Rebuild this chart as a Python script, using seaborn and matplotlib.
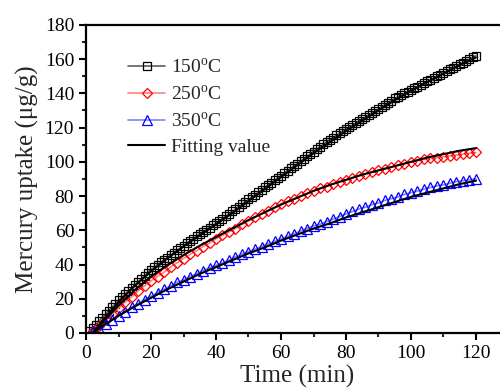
import matplotlib
matplotlib.use("Agg")
import matplotlib.pyplot as plt
import pandas as pd
import seaborn as sns
from matplotlib.ticker import MultipleLocator

# 150 C: one point per minute
t150 = list(range(1, 121))
uptake150 = [
    1.0, 2.8, 4.8, 6.9, 9.0, 11.0, 13.0, 15.0, 17.0, 19.0,
    20.8, 22.6, 24.4, 26.2, 28.0, 29.8, 31.6, 33.4, 35.2, 37.0,
    38.4, 39.8, 41.2, 42.6, 44.0, 45.4, 46.8, 48.2, 49.6, 51.0,
    52.4, 53.8, 55.2, 56.6, 58.0, 59.2, 60.4, 61.6, 62.8, 64.0,
    65.4, 66.8, 68.2, 69.6, 71.0, 72.4, 73.8, 75.2, 76.6, 78.0,
    79.4, 80.8, 82.2, 83.6, 85.0, 86.4, 87.8, 89.2, 90.6, 92.0,
    93.4, 94.8, 96.2, 97.6, 99.0, 100.4, 101.8, 103.2, 104.6, 106.0,
    107.4, 108.8, 110.2, 111.6, 113.0, 114.2, 115.4, 116.6, 117.8, 119.0,
    120.2, 121.4, 122.6, 123.8, 125.0, 126.2, 127.4, 128.6, 129.8, 131.0,
    132.2, 133.4, 134.6, 135.8, 137.0, 138.0, 139.0, 140.0, 141.0, 142.0,
    143.0, 144.0, 145.0, 146.0, 147.0, 148.0, 149.0, 150.0, 151.0, 152.0,
    153.0, 154.0, 155.0, 156.0, 157.0, 158.0, 159.0, 160.0, 161.0, 162.0,
]

# 250 C and 350 C: one point every two minutes
t_two = list(range(2, 121, 2))
uptake250 = [
    1.0, 4.0, 7.5, 11.0, 14.5, 18.0, 21.0, 24.5, 27.5, 30.5,
    33.0, 35.5, 38.5, 41.0, 43.5, 46.0, 48.0, 50.5, 52.5, 55.0,
    57.0, 59.0, 61.0, 63.5, 65.5, 67.5, 69.5, 71.5, 73.5, 75.5,
    77.0, 78.5, 80.0, 81.5, 83.0, 84.5, 85.5, 87.0, 88.5, 89.5,
    90.5, 92.0, 93.0, 94.0, 95.0, 96.0, 97.0, 98.0, 99.0, 100.0,
    100.5, 101.5, 102.0, 102.5, 103.0, 103.5, 104.0, 104.5, 105.0, 105.5,
]
uptake350 = [
    1.0, 2.5, 5.0, 7.5, 10.0, 12.5, 15.0, 17.0, 19.5, 21.5,
    23.5, 25.5, 27.5, 29.5, 31.0, 33.0, 34.5, 36.5, 38.0, 39.5,
    41.0, 42.5, 44.5, 46.0, 47.5, 49.0, 50.5, 52.0, 53.5, 55.0,
    56.5, 58.0, 59.5, 61.0, 62.5, 63.5, 65.0, 66.5, 68.0, 69.5,
    71.0, 72.5, 73.5, 75.0, 76.0, 77.5, 78.5, 79.5, 81.0, 82.0,
    83.0, 84.0, 85.0, 86.0, 86.5, 87.5, 88.5, 89.0, 89.5, 90.0,
]

# fitted curves
t_fit = [2, 5, 10, 15, 20, 25, 30, 35, 40, 45, 50, 55, 60,
         65, 70, 75, 80, 85, 90, 95, 100, 105, 110, 115, 120]
fit150 = [0, 7, 18, 27.5, 36, 43.5, 50.5, 57, 63.5, 70, 77, 84, 91,
          98, 105, 111.5, 118, 124, 130, 136, 141.5, 146.5, 151.5, 156.5, 161]
fit250 = [0, 6, 16, 25, 33, 39.5, 45.5, 51, 56, 61, 66, 70.5, 75,
          79, 83, 86.5, 89.5, 92.5, 95, 97.5, 100, 102.5, 104.5, 106.5, 108]
fit350 = [0, 4, 10, 15.5, 20.5, 25.5, 30, 34.5, 38.5, 42.5, 46.5, 50, 54,
          57.5, 61, 64, 67.5, 70.5, 73.5, 76.5, 79.5, 82, 84.5, 87, 89]

sns.set_theme(style="ticks")
plt.rcParams["font.family"] = ["Liberation Serif", "DejaVu Serif"]
plt.rcParams["mathtext.fontset"] = "custom"
plt.rcParams["mathtext.rm"] = "Liberation Serif"

fig = plt.figure(figsize=(5, 3.89), dpi=100)
ax = fig.add_axes([0.172, 0.144, 0.845, 0.792])

series = [
    ("150$^{\\rm o}$C", t150, uptake150, "black", "#606060", "s", 5.5),
    ("250$^{\\rm o}$C", t_two, uptake250, "red", "#ff8080", "D", 5.5),
    ("350$^{\\rm o}$C", t_two, uptake350, "blue", "#8080ff", "^", 6.5),
]
handles = []
for label, t, y, edge, line_c, mk, ms in series:
    df = pd.DataFrame({"time": t, "uptake": y})
    sns.lineplot(data=df, x="time", y="uptake", ax=ax, color=line_c, lw=1.2,
                 marker=mk, markersize=ms, markerfacecolor="none",
                 markeredgecolor=edge, markeredgewidth=0.9, label=label)
    handles.append(ax.lines[-1])

for fit in (fit150, fit250, fit350):
    df = pd.DataFrame({"time": t_fit, "uptake": fit})
    sns.lineplot(data=df, x="time", y="uptake", ax=ax, color="black",
                 lw=1.5, label="Fitting value")
handles.append(ax.lines[-1])

ax.legend(handles=handles, labels=[h.get_label() for h in handles],
          loc="upper left", bbox_to_anchor=(0.10, 0.893), frameon=False,
          fontsize=14, handlelength=1.9, handletextpad=0.3,
          labelspacing=0.38, borderaxespad=0, borderpad=0)

ax.set_xlim(0, 130)
ax.set_ylim(0, 180)
ax.xaxis.set_major_locator(MultipleLocator(20))
ax.xaxis.set_minor_locator(MultipleLocator(10))
ax.yaxis.set_major_locator(MultipleLocator(20))
ax.yaxis.set_minor_locator(MultipleLocator(10))
ax.tick_params(which="major", direction="out", length=5, width=1.5,
               labelsize=14, colors="black")
ax.tick_params(which="minor", direction="out", length=3, width=1.5)
for s in ax.spines.values():
    s.set_linewidth(1.6)
    s.set_color("black")
ax.set_xlabel("Time (min)", fontsize=18, labelpad=2)
ax.set_ylabel("Mercury uptake (\u03bcg/g)", fontsize=18, labelpad=4)

fig.savefig("out.png", dpi=100)
